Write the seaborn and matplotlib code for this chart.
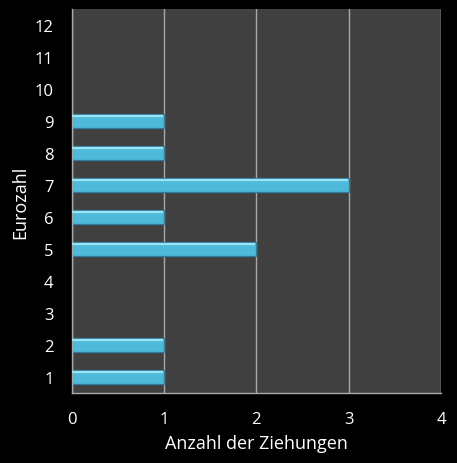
import matplotlib
matplotlib.use("Agg")
import matplotlib.pyplot as plt
import seaborn as sns
import pandas as pd

# Eurozahl draw counts
eurozahlen = [str(i) for i in range(1, 13)]
anzahl = [1, 1, 0, 0, 2, 1, 3, 1, 1, 0, 0, 0]
x_ticks = [0, 1, 2, 3, 4]

df = pd.DataFrame({"Eurozahl": eurozahlen, "Anzahl": anzahl})
order = eurozahlen[::-1]

sns.set_style("dark")
plt.rcParams["font.family"] = ["Open Sans", "DejaVu Sans"]

fig = plt.figure(figsize=(4.57, 4.64), dpi=100, facecolor="black")
ax = fig.add_axes([0.1565, 0.1509, 0.8085, 0.8276])
ax.set_facecolor("#404040")

sns.barplot(data=df, x="Anzahl", y="Eurozahl", order=order, orient="h",
            color="#4fb9d9", saturation=1, width=0.42,
            edgecolor="#2c7f9a", linewidth=0.9, ax=ax)
ylim = ax.get_ylim()

# bevel highlight along the upper edge of each bar
for p in list(ax.patches):
    if p.get_width() > 0:
        y_top = p.get_y() + 0.06
        ax.plot([p.get_x() + 0.01, p.get_x() + p.get_width() - 0.01],
                [y_top, y_top], color="#9fe0f2", linewidth=1.6,
                solid_capstyle="butt", zorder=3)

ax.set_ylim(ylim)
ax.set_xlim(0, 4)
ax.set_xticks(x_ticks)
ax.grid(axis="x", color="#a8a8a8", linewidth=1)
ax.grid(axis="y", visible=False)
ax.set_axisbelow(True)

for side in ["top", "right"]:
    ax.spines[side].set_visible(False)
for side in ["left", "bottom"]:
    ax.spines[side].set_visible(True)
    ax.spines[side].set_color("#a8a8a8")
    ax.spines[side].set_linewidth(1)

ax.tick_params(axis="y", length=0, pad=13, labelsize=12, colors="white")
ax.tick_params(axis="x", length=0, pad=13, labelsize=12, colors="white")
ax.set_xlabel("Anzahl der Ziehungen", color="white", fontsize=13, labelpad=5)
ax.set_ylabel("Eurozahl", color="white", fontsize=13, labelpad=4)

fig.savefig("out.png", dpi=100, facecolor="black")
